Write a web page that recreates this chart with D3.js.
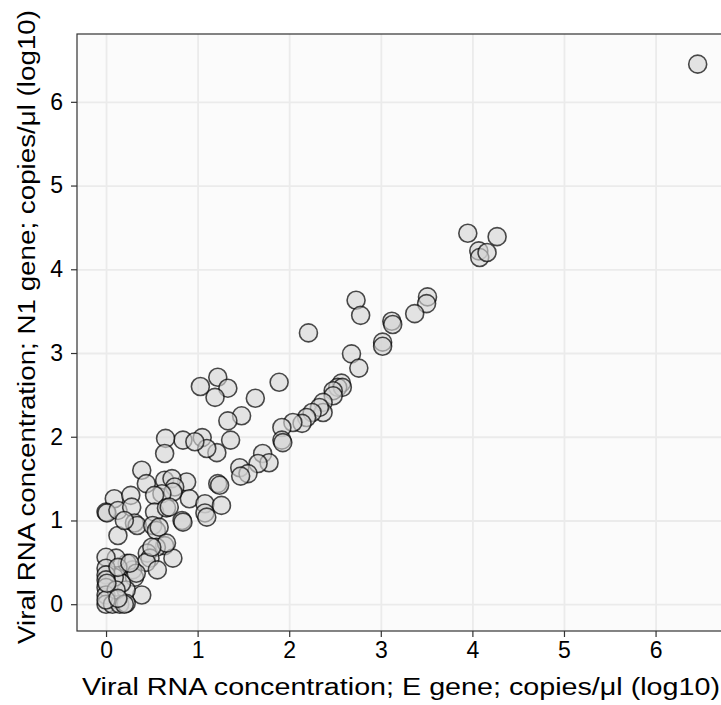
<!DOCTYPE html>
<html>
<head>
<meta charset="utf-8">
<script src="https://cdn.jsdelivr.net/npm/d3@7"></script>
<style>
body{margin:0;background:#fff;}
text{font-family:"Liberation Sans",Arial,sans-serif;}
</style>
</head>
<body>
<div id="chart"></div>
<script>
// E gene (x) and N1 gene (y), log10 copies/ul
var eGene = [6.46,3.95,4.27,4.07,4.08,4.16,3.51,3.50,3.37,3.12,3.13,3.02,3.02,2.73,2.78,2.21,2.68,2.76,2.57,2.53,
  2.58,2.48,2.48,2.37,2.37,2.33,2.25,2.19,2.14,2.04,1.92,1.92,1.93,1.89,1.63,1.48,1.33,1.22,1.33,1.19,
  1.03,1.36,1.05,1.21,1.10,0.84,1.71,1.78,1.66,1.46,1.55,1.47,1.22,0.88,0.91,1.08,1.26,1.08,0.65,0.64,
  0.97,0.39,0.44,0.09,0.27,0.64,0.72,0.75,0.73,0.61,0.53,0.00,0.01,0.13,0.13,0.28,0.31,0.34,0.20,0.53,
  0.51,0.55,0.66,0.83,0.84,0.64,0.73,0.55,0.45,0.48,0.44,0.56,0.29,0.23,0.31,0.39,0.22,0.17,0.09,0.11,
  0.00,0.00,0.00,0.00,0.00,0.00,0.00,0.07,0.15,0.22,0.11,0.13,0.33,0.26,0.58,0.66,0.50,0.69,1.10,1.24,
  0.00,0.01,0.20,0.13];
var n1Gene = [6.45,4.43,4.39,4.22,4.14,4.20,3.67,3.59,3.47,3.38,3.34,3.13,3.08,3.63,3.45,3.24,2.99,2.82,2.64,2.59,
  2.59,2.55,2.49,2.41,2.29,2.35,2.29,2.23,2.16,2.17,2.11,1.96,1.93,2.65,2.46,2.25,2.19,2.71,2.58,2.47,
  2.60,1.96,1.99,1.81,1.86,1.96,1.80,1.69,1.68,1.63,1.56,1.53,1.44,1.46,1.26,1.20,1.18,1.09,1.98,1.80,
  1.94,1.60,1.44,1.26,1.30,1.48,1.50,1.40,1.34,1.32,1.30,1.10,1.09,1.12,0.82,1.16,0.97,0.94,1.00,1.10,
  0.94,0.88,1.15,1.00,0.98,0.70,0.55,0.68,0.61,0.55,0.50,0.41,0.41,0.49,0.32,0.11,0.17,0.25,0.32,0.55,
  0.56,0.43,0.35,0.29,0.20,0.11,0.00,0.00,0.00,0.01,0.17,0.44,0.37,0.49,0.92,0.73,0.68,1.16,1.04,1.42,
  0.05,0.25,0.00,0.07];
var xTicks = [0,1,2,3,4,5,6];
var yTicks = [0,1,2,3,4,5,6];

var width = 721, height = 705;
var panel = {left:77, right:727, top:34, bottom:631};

var svg = d3.select("#chart").append("svg")
  .attr("width", width)
  .attr("height", height);

var xScale = d3.scaleLinear().domain([-0.317, 6.78]).range([panel.left, panel.right]);
var yScale = d3.scaleLinear().domain([-0.32, 6.81]).range([panel.bottom, panel.top]);

// panel background
svg.append("rect")
  .attr("x", panel.left).attr("y", panel.top)
  .attr("width", panel.right - panel.left).attr("height", panel.bottom - panel.top)
  .attr("fill", "#fbfbfb");

// grid
svg.append("g")
  .attr("transform", "translate(0," + panel.bottom + ")")
  .call(d3.axisBottom(xScale).tickValues(xTicks).tickSize(-(panel.bottom - panel.top)).tickFormat(""))
  .call(function(g){ g.select(".domain").remove(); })
  .selectAll("line").attr("stroke", "#ebebeb").attr("stroke-width", 1.8);
svg.append("g")
  .attr("transform", "translate(" + panel.left + ",0)")
  .call(d3.axisLeft(yScale).tickValues(yTicks).tickSize(-(panel.right - panel.left)).tickFormat(""))
  .call(function(g){ g.select(".domain").remove(); })
  .selectAll("line").attr("stroke", "#ebebeb").attr("stroke-width", 1.8);

// points
svg.append("g").selectAll("circle")
  .data(eGene)
  .enter()
  .append("circle")
  .attr("cx", function(d){ return xScale(d); })
  .attr("cy", function(d, i){ return yScale(n1Gene[i]); })
  .attr("r", 9)
  .attr("fill", "#d3d3d3")
  .attr("fill-opacity", 0.62)
  .attr("stroke", "#000")
  .attr("stroke-opacity", 0.7)
  .attr("stroke-width", 1.6);

// panel border
svg.append("rect")
  .attr("x", panel.left).attr("y", panel.top)
  .attr("width", panel.right - panel.left).attr("height", panel.bottom - panel.top)
  .attr("fill", "none")
  .attr("stroke", "#333")
  .attr("stroke-width", 1.2);

// axes
var xAxis = svg.append("g")
  .attr("transform", "translate(0," + panel.bottom + ")")
  .call(d3.axisBottom(xScale).tickValues(xTicks).tickSize(6).tickPadding(5).tickFormat(d3.format("d")));
xAxis.select(".domain").remove();
xAxis.selectAll("line").attr("stroke", "#333").attr("stroke-width", 1.2);
xAxis.selectAll("text").attr("font-size", 23).attr("fill", "#000").attr("font-family", "Liberation Sans, Arial, sans-serif");

var yAxis = svg.append("g")
  .attr("transform", "translate(" + panel.left + ",0)")
  .call(d3.axisLeft(yScale).tickValues(yTicks).tickSize(6).tickPadding(8).tickFormat(d3.format("d")));
yAxis.select(".domain").remove();
yAxis.selectAll("line").attr("stroke", "#333").attr("stroke-width", 1.2);
yAxis.selectAll("text").attr("font-size", 23).attr("fill", "#000").attr("font-family", "Liberation Sans, Arial, sans-serif");

// axis titles
svg.append("text")
  .attr("x", 401)
  .attr("y", 695)
  .attr("text-anchor", "middle")
  .attr("font-size", 23)
  .attr("textLength", 638)
  .attr("lengthAdjust", "spacingAndGlyphs")
  .text("Viral RNA concentration; E gene; copies/μl (log10)");

svg.append("text")
  .attr("transform", "translate(35,327) rotate(-90)")
  .attr("text-anchor", "middle")
  .attr("font-size", 23)
  .attr("textLength", 634)
  .attr("lengthAdjust", "spacingAndGlyphs")
  .text("Viral RNA concentration; N1 gene; copies/μl (log10)");
</script>
</body>
</html>
